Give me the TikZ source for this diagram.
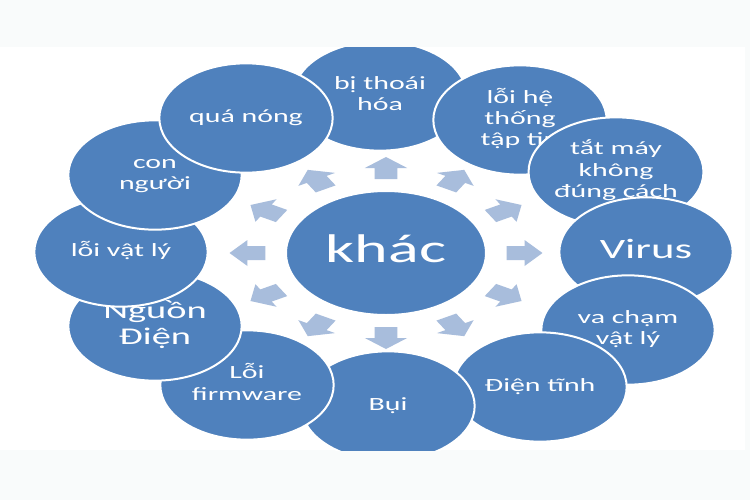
\documentclass[tikz,border=0pt]{standalone}
\usepackage{fontspec}
\setmainfont{Carlito}
\usepackage{graphicx}
\usetikzlibrary{shapes.geometric}
\definecolor{bubbleblue}{RGB}{79,129,189}
\definecolor{spokeblue}{RGB}{168,189,220}
\definecolor{pagegrey}{RGB}{249,251,251}
\newcommand{\widetext}[1]{\scalebox{1.6}[1]{\begin{tabular}{@{}c@{}}#1\end{tabular}}}

\begin{document}
\begin{tikzpicture}[x=0.75pt,y=0.75pt,yscale=-1,xscale=1,
    bubble/.style={ellipse, fill=bubbleblue, draw=white, line width=1.5pt, inner sep=0pt,
      minimum width=130pt, minimum height=82pt, text=white, font=\fontsize{14}{16}\selectfont},
    hub/.style={bubble, minimum width=150pt, minimum height=93pt, font=\fontsize{30}{34}\selectfont},
    spoke/.style={fill=spokeblue, draw=none}]
    %uncomment if require: \path (0,500); %set diagram left start at 0, and has height of 500

    %Shape: page and white band
    \fill [pagegrey] (0,0) rectangle (750,500);
    \fill [white] (0,47) rectangle (745,450);

    \begin{scope}
    \clip (0,47) rectangle (745,450);

    %Shape: block arrows round the hub
    \begin{scope}[shift={(386,253)}, xscale=1.63]
    \foreach \a in {0,30,...,330}
      \fill [spoke, rotate=\a] (74,-7) -- (85,-7) -- (85,-13) -- (96,0) -- (85,13) -- (85,7) -- (74,7) -- cycle;
    \end{scope}

    % Text Node
    \node [bubble] (thoaihoa) at (380,96) {\widetext{bị thoái\\hóa}};
    % Text Node
    \node [bubble] (hethong) at (520,120) {\widetext{lỗi hệ\\thống\\tập tin}};
    % Text Node
    \node [bubble] (tatmay) at (616,172) {\widetext{tắt máy\\không\\đúng cách}};
    % Text Node
    \node [bubble, font=\fontsize{21}{24}\selectfont] (virus) at (646,252) {\widetext{Virus}};
    % Text Node
    \node [bubble] (vacham) at (628,330) {\widetext{va chạm\\vật lý}};
    % Text Node
    \node [bubble] (dientinh) at (540,387) {\widetext{Điện tĩnh}};
    % Text Node
    \node [bubble] (bui) at (388,406) {\widetext{Bụi}};
    % Text Node
    \node [bubble] (firmware) at (247,385) {\widetext{Lỗi\\firmware}};
    % Text Node
    \node [bubble, font=\fontsize{18}{20}\selectfont] (nguondien) at (155,326) {\widetext{Nguồn\\Điện}};
    % Text Node
    \node [bubble] (vatly) at (121,252) {\widetext{lỗi vật lý}};
    % Text Node
    \node [bubble] (connguoi) at (155,175) {\widetext{con\\người}};
    % Text Node
    \node [bubble] (quanong) at (246,118) {\widetext{quá nóng}};

    % Text Node
    \node [hub] (khac) at (386,253) {\widetext{khác}};
    \end{scope}

\end{tikzpicture}
\end{document}
